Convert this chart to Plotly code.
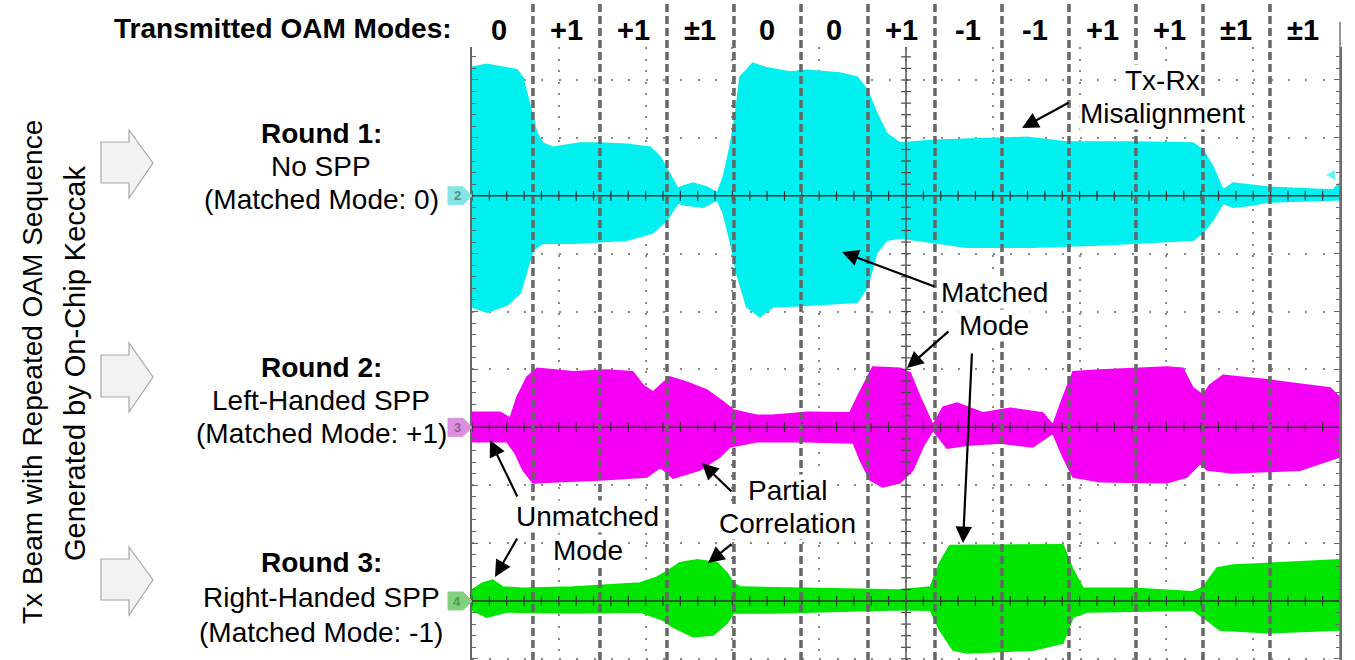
import numpy as np
import plotly.graph_objects as go

# ---------------- data ----------------
MODES = ["0", "+1", "+1", "±1", "0", "0", "+1", "-1", "-1", "+1", "+1", "±1", "±1"]
ROUND_TITLES = ["Round 1:", "Round 2:", "Round 3:"]
ROUND_SUB = ["No SPP", "Left-Handed SPP", "Right-Handed SPP"]
ROUND_MATCH = ["(Matched Mode: 0)", "(Matched Mode: +1)", "(Matched Mode: -1)"]
CHANNELS = ["2", "3", "4"]
CHANNEL_OFFSETS = [0, -4, -7]          # scope divisions
COLORS = ["#00f0f0", "#f500f5", "#00e600"]

# time in symbol periods, envelope amplitude in divisions (top above, bottom below zero)
CH2_TOP_T = [0.09, 0.31, 0.76, 0.85, 0.96, 1.06, 1.15, 1.30, 1.70, 2.00, 2.40, 2.75, 2.90, 3.04, 3.16,
             3.27, 3.39, 3.60, 3.75, 3.84, 3.94, 4.03, 4.09, 4.28, 4.49, 4.84, 5.09, 5.58, 5.84, 5.99,
             6.13, 6.28, 6.48, 6.97, 7.97, 8.37, 8.97, 9.96, 10.85, 11.00, 11.15, 11.30, 11.45, 11.70,
             11.96, 12.94, 13.04]
CH2_TOP_V = [2.22, 2.27, 2.18, 2.04, 1.53, 1.08, 0.91, 0.84, 0.91, 0.91, 0.89, 0.84, 0.67, 0.39, 0.13,
             0.18, 0.22, 0.15, 0.05, 0.32, 0.84, 1.48, 2.05, 2.29, 2.21, 2.14, 2.17, 2.12, 2.05, 1.83,
             1.43, 1.08, 0.91, 0.96, 1.00, 1.01, 0.93, 0.93, 0.91, 0.79, 0.50, 0.10, 0.22, 0.18,
             0.15, 0.10, 0.22]
CH2_BOT_T = [0.09, 0.31, 0.61, 0.81, 0.93, 1.00, 1.15, 1.60, 2.40, 2.79, 3.00, 3.16, 3.27, 3.54, 3.75,
             3.84, 3.94, 4.04, 4.19, 4.39, 4.58, 5.09, 5.84, 5.99, 6.13, 6.28, 6.48, 7.48, 8.46, 9.46,
             10.85, 11.00, 11.15, 11.30, 11.45, 11.75, 11.96, 13.04]
CH2_BOT_V = [1.92, 2.01, 1.89, 1.68, 1.23, 0.94, 0.82, 0.82, 0.77, 0.64, 0.42, 0.13, 0.16, 0.20, 0.07,
             0.30, 0.77, 1.34, 1.92, 2.09, 1.92, 1.89, 1.84, 1.58, 0.99, 0.77, 0.73, 0.89, 0.89, 0.85,
             0.77, 0.64, 0.42, 0.13, 0.20, 0.16, 0.11, 0.07]

CH3_TOP_T = [0.09, 0.51, 0.66, 0.76, 0.91, 1.06, 1.60, 2.10, 2.49, 2.64, 2.79, 2.94, 3.04, 3.30, 3.60,
             3.84, 3.99, 4.34, 4.58, 5.09, 5.73, 5.84, 5.99, 6.07, 6.48, 6.63, 6.78, 6.97, 7.12, 7.33,
             7.72, 8.12, 8.61, 8.76, 8.91, 9.06, 9.46, 10.46, 10.70, 10.85, 11.00, 11.10, 11.30, 11.96,
             12.90, 13.04]
CH3_TOP_V = [0.26, 0.26, 0.16, 0.52, 0.87, 1.02, 0.96, 0.99, 0.96, 0.73, 0.61, 0.77, 0.87, 0.78, 0.64,
             0.44, 0.30, 0.21, 0.21, 0.26, 0.25, 0.52, 0.87, 1.04, 1.02, 0.94, 0.52, 0.04, 0.35, 0.42,
             0.25, 0.33, 0.25, 0.04, 0.52, 0.96, 0.99, 1.04, 1.02, 0.68, 0.56, 0.73, 0.90, 0.82,
             0.68, 0.52]
CH3_BOT_T = [0.09, 0.61, 0.73, 0.85, 1.00, 1.36, 2.00, 2.70, 2.90, 3.09, 3.49, 3.79, 3.94, 4.34, 5.09,
             5.78, 5.88, 6.03, 6.22, 6.48, 6.67, 6.82, 6.97, 7.18, 7.48, 7.97, 8.46, 8.76, 8.91, 9.06,
             9.46, 10.46, 10.76, 10.96, 11.06, 11.45, 12.45, 13.04]
CH3_BOT_V = [0.25, 0.25, 0.44, 0.74, 0.96, 0.94, 0.91, 0.86, 0.69, 0.88, 0.74, 0.51, 0.34, 0.25, 0.25,
             0.27, 0.56, 0.91, 1.03, 0.96, 0.74, 0.34, 0.05, 0.36, 0.31, 0.27, 0.34, 0.10, 0.51, 0.86,
             0.94, 0.96, 0.86, 0.62, 0.74, 0.79, 0.74, 0.51]

CH4_TOP_T = [0.09, 0.25, 0.40, 0.55, 0.85, 1.60, 2.60, 2.85, 3.04, 3.19, 3.45, 3.75, 3.90, 3.99, 4.09,
             4.99, 6.48, 6.93, 7.07, 7.22, 8.91, 9.06, 9.21, 9.96, 10.85, 11.00, 11.21, 11.45, 13.04]
CH4_TOP_V = [0.19, 0.31, 0.36, 0.24, 0.22, 0.24, 0.31, 0.41, 0.54, 0.66, 0.71, 0.66, 0.48, 0.31, 0.24,
             0.22, 0.19, 0.24, 0.66, 0.96, 0.97, 0.54, 0.22, 0.22, 0.16, 0.24, 0.57, 0.62, 0.71]
CH4_BOT_T = [0.09, 0.31, 0.61, 1.60, 2.60, 2.94, 3.09, 3.39, 3.69, 3.90, 3.99, 4.58, 6.48, 6.93, 7.07,
             7.27, 7.48, 8.46, 8.91, 9.06, 9.27, 10.85, 11.06, 11.25, 11.96, 13.04]
CH4_BOT_V = [0.16, 0.28, 0.19, 0.21, 0.19, 0.33, 0.45, 0.62, 0.59, 0.38, 0.21, 0.21, 0.15, 0.16, 0.50,
             0.85, 0.90, 0.85, 0.73, 0.28, 0.19, 0.16, 0.33, 0.50, 0.55, 0.50]

XRANGE = [0.09, 13.045]
YRANGE = [-8.02, 2.57]

# ---------------- layout helpers ----------------
W, H = 1355, 660
ML, MR, MT, MB = 472, 15, 47, 0
PW, PH = W - ML - MR, H - MT - MB
FONT = "Liberation Sans Narrow, Arial Narrow, Liberation Sans, Arial, sans-serif"


def px(x):
    return (x - ML) / PW


def py(y):
    return (H - MB - y) / PH


def label(x, y, text, size=28, **kw):
    d = dict(x=px(x), y=py(y), xref="paper", yref="paper", text=text, showarrow=False,
             xanchor="center", yanchor="middle",
             font=dict(family=FONT, size=size, color="black"))
    d.update(kw)
    return d


fig = go.Figure()

# ---------------- traces ----------------
series = [(CH2_TOP_T, CH2_TOP_V, CH2_BOT_T, CH2_BOT_V),
          (CH3_TOP_T, CH3_TOP_V, CH3_BOT_T, CH3_BOT_V),
          (CH4_TOP_T, CH4_TOP_V, CH4_BOT_T, CH4_BOT_V)]
for (tt, tv, bt, bv), off, col in zip(series, CHANNEL_OFFSETS, COLORS):
    xs = list(tt) + list(bt)[::-1]
    ys = [off + v for v in tv] + [off - v for v in bv][::-1]
    fig.add_trace(go.Scatter(x=xs, y=ys, mode="lines", fill="toself", fillcolor=col,
                             line=dict(color=col, width=1.5), hoverinfo="skip"))

# scope graticule tick marks on zero lines and centre vertical
DIV_T = (XRANGE[1] - XRANGE[0]) / 10
xt = XRANGE[0] + np.arange(0, 51) * DIV_T / 5
for off in CHANNEL_OFFSETS:
    fig.add_trace(go.Scatter(x=xt, y=[off] * len(xt), mode="markers",
                             marker=dict(symbol="line-ns", size=7, line=dict(color="#333", width=1.2)),
                             hoverinfo="skip"))
XC = XRANGE[0] + 5 * DIV_T
yt = np.round(np.arange(-41, 14) * 0.2, 2)
fig.add_trace(go.Scatter(x=[XC] * len(yt), y=yt, mode="markers",
                         marker=dict(symbol="line-ew", size=7, line=dict(color="#444", width=1.2)),
                         hoverinfo="skip"))

shapes = []
# channel zero lines
for off in CHANNEL_OFFSETS:
    shapes.append(dict(type="line", xref="paper", yref="y", x0=0, x1=1, y0=off, y1=off,
                       line=dict(color="#333", width=1.6), layer="above"))
# centre vertical line
shapes.append(dict(type="line", xref="x", yref="paper", x0=XC, x1=XC, y0=0, y1=1,
                   line=dict(color="#555", width=1.5), layer="above"))
# right border
shapes.append(dict(type="line", xref="paper", yref="paper", x0=1, x1=1, y0=0, y1=py(22),
                   line=dict(color="#777", width=1.5), layer="above"))
# segment boundaries (dashed)
for k in range(1, len(MODES)):
    shapes.append(dict(type="line", xref="x", yref="paper", x0=k, x1=k, y0=0, y1=py(0),
                       line=dict(color="#666", width=3.5, dash="8px,4px"), layer="above"))

# block arrows on the left
ARROW_Y = [(130, 142, 163, 183, 198), (343, 355, 377, 397, 412), (547, 559, 580, 600, 615)]
for (ht, bt_, tip, bb, hb) in ARROW_Y:
    pts = [(101, bt_), (129, bt_), (129, ht), (153, tip), (129, hb), (129, bb), (101, bb)]
    path = "M " + " L ".join(f"{px(a):.5f},{py(b):.5f}" for a, b in pts) + " Z"
    shapes.append(dict(type="path", xref="paper", yref="paper", path=path,
                       fillcolor="#f2f2f2", line=dict(color="#a8a8a8", width=1.2)))

# channel tags
TAG_FILL = ["#86e4e4", "#dc8fdc", "#80d080"]
TAG_TEXT = ["#4f8f8f", "#9a5a9a", "#4f9a4f"]
annotations = []
for ch, off, fc, tc in zip(CHANNELS, CHANNEL_OFFSETS, TAG_FILL, TAG_TEXT):
    yc = 195.7 - off * 57.9
    pts = [(448, yc - 9), (463, yc - 9), (472, yc), (463, yc + 9), (448, yc + 9)]
    path = "M " + " L ".join(f"{px(a):.5f},{py(b):.5f}" for a, b in pts) + " Z"
    shapes.append(dict(type="path", xref="paper", yref="paper", path=path,
                       fillcolor=fc, line=dict(color=fc, width=1)))
    annotations.append(label(457, yc, f"<b>{ch}</b>",
                             font=dict(family="Liberation Sans, Arial", size=13, color=tc)))
# right-side level markers
for off, col, yc in zip(CHANNEL_OFFSETS, COLORS, [175, 408, 580]):
    pts = [(1326, yc), (1335, yc - 5), (1335, yc + 5)]
    path = "M " + " L ".join(f"{px(a):.5f},{py(b):.5f}" for a, b in pts) + " Z"
    shapes.append(dict(type="path", xref="paper", yref="paper", path=path,
                       fillcolor=col, opacity=0.6, line=dict(width=0)))

# header
annotations.append(label(454, 28, "<b>Transmitted OAM Modes:</b>", size=28, xanchor="right"))
for i, m in enumerate(MODES):
    annotations.append(dict(x=i + 0.5, y=py(30), xref="x", yref="paper", text=f"<b>{m}</b>",
                            showarrow=False, xanchor="center", yanchor="middle",
                            font=dict(family=FONT, size=29, color="black")))

# left rotated title
annotations.append(label(33, 372, "Tx Beam with Repeated OAM Sequence", size=28, textangle=-90))
annotations.append(label(75, 364, "Generated by On-Chip Keccak", size=29, textangle=-90))

# round labels
ROUND_Y = [(133, 166, 200), (367, 400, 433), (562, 597, 632)]
for title, sub, match, (y1, y2, y3) in zip(ROUND_TITLES, ROUND_SUB, ROUND_MATCH, ROUND_Y):
    for txt, yy in ((f"<b>{title}</b>", y1), (sub, y2), (match, y3)):
        annotations.append(label(321, yy, txt, size=28))

# callout texts (white boxes hide the graticule behind them)
CALLOUTS = [("Tx-Rx", 1162, 80), ("Misalignment", 1162, 113), ("Matched", 994, 292),
            ("Mode", 994, 325), ("Unmatched", 587, 516), ("Mode", 588, 550),
            ("Partial", 787, 490), ("Correlation", 787, 523)]
for txt, x, y in CALLOUTS:
    annotations.append(label(x, y, txt, size=28, bgcolor="white", borderpad=0))
# callout arrows (head, tail)
ARROWS = [((1022, 128), (1070, 102)), ((842, 252), (936, 287)), ((907, 368), (950, 330)),
          ((963, 543), (972, 352)), ((490, 440), (518, 498)), ((495, 577), (518, 537)),
          ((702, 463), (733, 493)), ((708, 563), (733, 543))]
for (hx, hy), (tx, ty) in ARROWS:
    annotations.append(dict(x=px(hx), y=py(hy), xref="paper", yref="paper", text="",
                            showarrow=True, ax=tx - hx, ay=ty - hy, arrowhead=2, arrowsize=1.5,
                            arrowwidth=2.2, arrowcolor="black", standoff=0))

fig.update_layout(
    width=W, height=H, margin=dict(l=ML, r=MR, t=MT, b=MB),
    paper_bgcolor="white", plot_bgcolor="white", showlegend=False,
    shapes=shapes, annotations=annotations,
    xaxis=dict(range=XRANGE, showline=False, ticks="", showticklabels=False, zeroline=False,
               showgrid=True, tick0=XRANGE[0], dtick=DIV_T, gridcolor="#8a8a8a", gridwidth=1.5,
               griddash="2px,9.58px", fixedrange=True),
    yaxis=dict(range=YRANGE, showline=True, linecolor="#666", linewidth=1.5, mirror="ticks",
               ticks="inside", ticklen=6, tickcolor="#666", tick0=0, dtick=1,
               showticklabels=False, zeroline=False, showgrid=True, gridcolor="#8a8a8a",
               gridwidth=1.5, griddash="2px,15.36px", fixedrange=True,
               minor=dict(ticks="inside", ticklen=4, dtick=0.2, tickcolor="#666", showgrid=False)),
)

fig.write_html("out.html", config={"displayModeBar": False},
               post_script="document.body.style.margin='0';document.body.style.overflow='hidden';")
